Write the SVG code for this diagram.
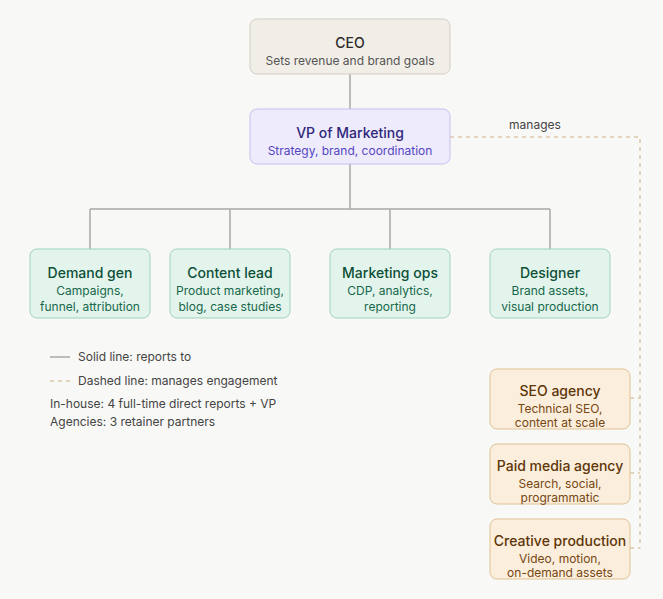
<svg xmlns="http://www.w3.org/2000/svg" width="663" height="599" viewBox="0 0 663 599">
<style>
text{font-family:Inter,"Noto Sans","Liberation Sans",sans-serif;text-anchor:middle}
.t{font-size:14px;font-weight:500}
.s{font-size:12px}
.ceo rect{fill:#f1eee7;stroke:#d3cfc5}
.ceo .t{fill:#2b2b2b}.ceo .s{fill:#555}
.vp rect{fill:#eeecfc;stroke:#c4bff0}
.vp .t{fill:#2f267a}.vp .s{fill:#5646c2}
.team rect{fill:#e2f4ec;stroke:#9fd3bb}
.team .t{fill:#0d4f37}.team .s{fill:#17674a}
.ag rect{fill:#fbeedc;stroke:#dfc193}
.ag .t{fill:#5e3507}.ag .s{fill:#774712}
.solid{stroke:#a8a8a4;stroke-width:1.5;fill:none}
.dash{stroke:#dcc7aa;stroke-width:1.5;fill:none;stroke-dasharray:4 4}
.leg{font-size:12px;fill:#444;text-anchor:start}
</style>
<rect width="663" height="599" fill="#f8f8f6"/>
<g id="connectors">
<path class="solid" d="M350 74V109M350 164V209M90 209H550M90 209V249M230 209V249M390 209V249M550 209V249"/>
<path class="dash" d="M450 137H640V548M630 398H640M630 473H640M630 548H640"/>
<text x="535" y="129" class="leg" style="text-anchor:middle">manages</text>
</g>
<g id="ceo" class="ceo"><rect x="250" y="19" width="200" height="55" rx="7"/><text class="t" x="350" y="48">CEO</text><text class="s" x="350" y="65">Sets revenue and brand goals</text></g>
<g id="vp" class="vp"><rect x="250" y="109" width="200" height="55" rx="7"/><text class="t" x="350" y="138">VP of Marketing</text><text class="s" x="350" y="155">Strategy, brand, coordination</text></g>
<g id="demand" class="team"><rect x="30" y="249" width="120" height="69" rx="7"/><text class="t" x="90" y="278">Demand gen</text><text class="s" x="90" y="295">Campaigns,</text><text class="s" x="90" y="311">funnel, attribution</text></g>
<g id="content" class="team"><rect x="170" y="249" width="120" height="69" rx="7"/><text class="t" x="230" y="278">Content lead</text><text class="s" x="230" y="295">Product marketing,</text><text class="s" x="230" y="311">blog, case studies</text></g>
<g id="ops" class="team"><rect x="330" y="249" width="120" height="69" rx="7"/><text class="t" x="390" y="278">Marketing ops</text><text class="s" x="390" y="295">CDP, analytics,</text><text class="s" x="390" y="311">reporting</text></g>
<g id="designer" class="team"><rect x="490" y="249" width="120" height="69" rx="7"/><text class="t" x="550" y="278">Designer</text><text class="s" x="550" y="295">Brand assets,</text><text class="s" x="550" y="311">visual production</text></g>
<g id="seo" class="ag"><rect x="490" y="369" width="140" height="60" rx="7"/><text class="t" x="560" y="396">SEO agency</text><text class="s" x="560" y="413">Technical SEO,</text><text class="s" x="560" y="427">content at scale</text></g>
<g id="paid" class="ag"><rect x="490" y="444" width="140" height="60" rx="7"/><text class="t" x="560" y="471">Paid media agency</text><text class="s" x="560" y="488">Search, social,</text><text class="s" x="560" y="502">programmatic</text></g>
<g id="creative" class="ag"><rect x="490" y="519" width="140" height="60" rx="7"/><text class="t" x="560" y="546">Creative production</text><text class="s" x="560" y="563">Video, motion,</text><text class="s" x="560" y="577">on-demand assets</text></g>
<g id="legend">
<line class="solid" x1="50" y1="357" x2="70" y2="357"/>
<text class="leg" x="78" y="361">Solid line: reports to</text>
<line class="dash" x1="50" y1="381" x2="70" y2="381"/>
<text class="leg" x="78" y="385">Dashed line: manages engagement</text>
<text class="leg" x="50" y="408">In-house: 4 full-time direct reports + VP</text>
<text class="leg" x="50" y="426">Agencies: 3 retainer partners</text>
</g>
</svg>
